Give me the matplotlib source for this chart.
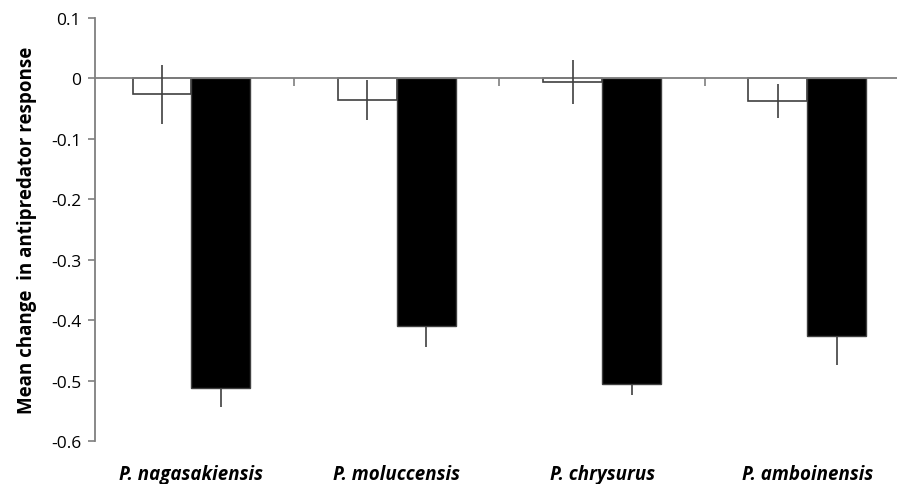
import matplotlib
matplotlib.use("Agg")
import matplotlib.pyplot as plt
import numpy as np

categories = ["P. nagasakiensis", "P. moluccensis", "P. chrysurus", "P. amboinensis"]
white_vals = [-0.026, -0.036, -0.006, -0.037]
white_err = [0.049, 0.033, 0.036, 0.028]
black_vals = [-0.513, -0.410, -0.505, -0.427]
black_err = [0.031, 0.035, 0.019, 0.048]
yticks = [0.1, 0, -0.1, -0.2, -0.3, -0.4, -0.5, -0.6]
ylabel = "Mean change  in antipredator response"

plt.rcParams['font.family'] = ['Open Sans', 'DejaVu Sans']

fig = plt.figure(figsize=(8.97, 4.85), dpi=100)
ax = fig.add_axes([95/897, 43/485, 835.6/897, 423/485])

x = np.arange(len(categories))
w = 0.287
axis_col = "#7f7f7f"
err_col = "#404040"

ax.bar(x - w/2, white_vals, width=w, color="white", edgecolor=err_col, linewidth=1.2, zorder=2)
ax.errorbar(x - w/2, white_vals, yerr=white_err, fmt="none", ecolor=err_col, elinewidth=1.2, capsize=0, zorder=3)
ax.bar(x + w/2, black_vals, width=w, color="black", edgecolor=err_col, linewidth=1.0, zorder=2)
ax.errorbar(x + w/2, black_vals, yerr=black_err, fmt="none", ecolor=err_col, elinewidth=1.2, capsize=0, zorder=1)

ax.set_xlim(-0.47, 3.6)
ax.set_ylim(-0.6, 0.1)
ax.set_yticks(yticks)
ax.set_yticklabels(["0.1", "0", "-0.1", "-0.2", "-0.3", "-0.4", "-0.5", "-0.6"], fontsize=12.5)

for s in ["top", "right"]:
    ax.spines[s].set_visible(False)
ax.spines["bottom"].set_position(("data", 0))
ax.spines["bottom"].set_color(axis_col)
ax.spines["bottom"].set_linewidth(1.3)
ax.spines["left"].set_color(axis_col)
ax.spines["left"].set_linewidth(1.3)
ax.tick_params(axis="y", direction="out", length=5, width=1.2, color=axis_col, pad=5)
ax.set_xticks([0.5, 1.5, 2.5])
ax.set_xticklabels([])
ax.tick_params(axis="x", direction="out", length=6, width=1.2, color=axis_col)

for xi, c in zip(x, categories):
    ax.text(xi, -0.655, c, ha="center", va="center", fontsize=13.5, fontweight="bold", fontstyle="italic",
            transform=ax.transData, clip_on=False)

ax.set_ylabel(ylabel, fontsize=13.5, fontweight="bold", labelpad=10)

fig.savefig("out.png", dpi=100)
